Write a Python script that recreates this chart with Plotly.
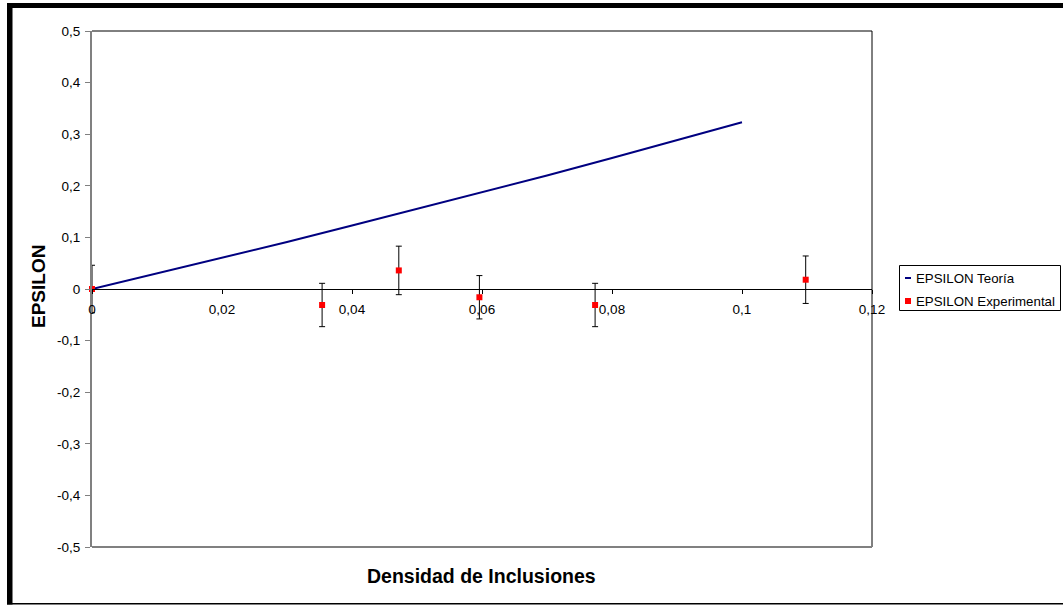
import plotly.graph_objects as go

# Theoretical curve
theory_x = [0.0, 0.01, 0.02, 0.03, 0.04, 0.05, 0.06, 0.07, 0.08, 0.09, 0.10]
theory_y = [0.0, 0.030, 0.060, 0.091, 0.123, 0.155, 0.187, 0.220, 0.254, 0.288, 0.323]

# Experimental measurements with symmetric uncertainty
exp_x = [0.0, 0.0354, 0.0472, 0.0596, 0.0774, 0.1098]
exp_y = [0.0, -0.031, 0.036, -0.016, -0.031, 0.018]
exp_err = [0.046, 0.042, 0.047, 0.042, 0.042, 0.046]

# Axis ticks
x_ticks = [0.0, 0.02, 0.04, 0.06, 0.08, 0.10, 0.12]
x_tick_labels = ["0", "0,02", "0,04", "0,06", "0,08", "0,1", "0,12"]
y_ticks = [-0.5, -0.4, -0.3, -0.2, -0.1, 0.0, 0.1, 0.2, 0.3, 0.4, 0.5]
y_tick_labels = ["-0,5", "-0,4", "-0,3", "-0,2", "-0,1", "0", "0,1", "0,2", "0,3", "0,4", "0,5"]

series_names = ["EPSILON Teoría", "EPSILON Experimental"]

W, H = 1063, 605
L, R, T, B = 92, 872, 31, 547  # plot area edges in pixels
FONT = "Liberation Sans, Arial, sans-serif"


def fx(p):
    return (p - L) / (R - L)


def fy(p):
    return (B - p) / (B - T)


fig = go.Figure()

fig.add_trace(go.Scatter(
    x=theory_x, y=theory_y, mode="lines",
    line=dict(color="#000080", width=2),
    name=series_names[0], showlegend=False, cliponaxis=False,
))

fig.add_trace(go.Scatter(
    x=exp_x, y=exp_y, mode="markers",
    marker=dict(symbol="square", size=6, color="#FF0000", line=dict(width=0)),
    error_y=dict(type="data", array=exp_err, visible=True,
                 color="#000000", thickness=1, width=3),
    name=series_names[1], showlegend=False, cliponaxis=False,
))

shapes = []
# plot-area border: top and right in black
shapes.append(dict(type="line", xref="paper", yref="paper", x0=0, x1=1, y0=1, y1=1,
                   line=dict(color="#000000", width=1)))
shapes.append(dict(type="line", xref="paper", yref="paper", x0=1, x1=1, y0=0, y1=1,
                   line=dict(color="#000000", width=1)))
# bottom edge of plot area in grey
shapes.append(dict(type="line", xref="paper", yref="paper", x0=0, x1=1, y0=0, y1=0,
                   line=dict(color="#808080", width=2)))

# outer chart frame
shapes.append(dict(type="rect", xref="paper", yref="paper",
                   x0=fx(7), x1=fx(12.5), y0=fy(604.5), y1=fy(3),
                   fillcolor="#000000", line=dict(width=0)))
shapes.append(dict(type="rect", xref="paper", yref="paper",
                   x0=fx(7), x1=fx(W), y0=fy(8), y1=fy(3),
                   fillcolor="#000000", line=dict(width=0)))
shapes.append(dict(type="rect", xref="paper", yref="paper",
                   x0=fx(7), x1=fx(W), y0=fy(604.5), y1=fy(603),
                   fillcolor="#000000", line=dict(width=0)))

# legend box
shapes.append(dict(type="rect", xref="paper", yref="paper",
                   x0=fx(899.5), x1=fx(1060.5), y0=fy(310.5), y1=fy(265.5),
                   fillcolor="#FFFFFF", line=dict(color="#000000", width=1)))
shapes.append(dict(type="line", xref="paper", yref="paper",
                   x0=fx(905), x1=fx(911), y0=fy(278), y1=fy(278),
                   line=dict(color="#000080", width=2)))
shapes.append(dict(type="rect", xref="paper", yref="paper",
                   x0=fx(905), x1=fx(911), y0=fy(304), y1=fy(298),
                   fillcolor="#FF0000", line=dict(width=0)))

annotations = [
    dict(text="<b>EPSILON</b>", xref="paper", yref="paper", x=fx(38), y=fy(287),
         textangle=-90, showarrow=False, xanchor="center", yanchor="middle",
         font=dict(family=FONT, size=19, color="#000000")),
    dict(text="<b>Densidad de Inclusiones</b>", xref="paper", yref="paper",
         x=fx(481.5), y=fy(576), showarrow=False, xanchor="center", yanchor="middle",
         font=dict(family=FONT, size=19.5, color="#000000")),
    dict(text=series_names[0], xref="paper", yref="paper", x=fx(914), y=fy(278),
         showarrow=False, xanchor="left", yanchor="middle",
         font=dict(family=FONT, size=13.3, color="#000000")),
    dict(text=series_names[1], xref="paper", yref="paper", x=fx(914), y=fy(301),
         showarrow=False, xanchor="left", yanchor="middle",
         font=dict(family=FONT, size=13.3, color="#000000")),
]

fig.update_layout(
    width=W, height=H,
    margin=dict(l=L, r=W - R, t=T, b=H - B, pad=0),
    paper_bgcolor="#FFFFFF", plot_bgcolor="#FFFFFF",
    showlegend=False,
    font=dict(family=FONT, size=13, color="#000000"),
    xaxis=dict(
        range=[0, 0.12], tickvals=x_ticks, ticktext=x_tick_labels,
        showgrid=False, zeroline=False,
        showline=True, linecolor="#000000", linewidth=1,
        ticks="outside", ticklen=4, tickcolor="#000000", tickwidth=1,
        anchor="free", position=0.5, ticklabelstandoff=4,
        tickfont=dict(family=FONT, size=13.5, color="#000000"),
    ),
    yaxis=dict(
        range=[-0.5, 0.5], tickvals=y_ticks, ticktext=y_tick_labels,
        showgrid=False, zeroline=False,
        showline=True, linecolor="#808080", linewidth=2,
        ticks="outside", ticklen=5, tickcolor="#808080", tickwidth=1,
        ticklabelstandoff=2,
        tickfont=dict(family=FONT, size=13.5, color="#000000"),
    ),
    shapes=shapes,
    annotations=annotations,
)

fig.write_html("out.html")
